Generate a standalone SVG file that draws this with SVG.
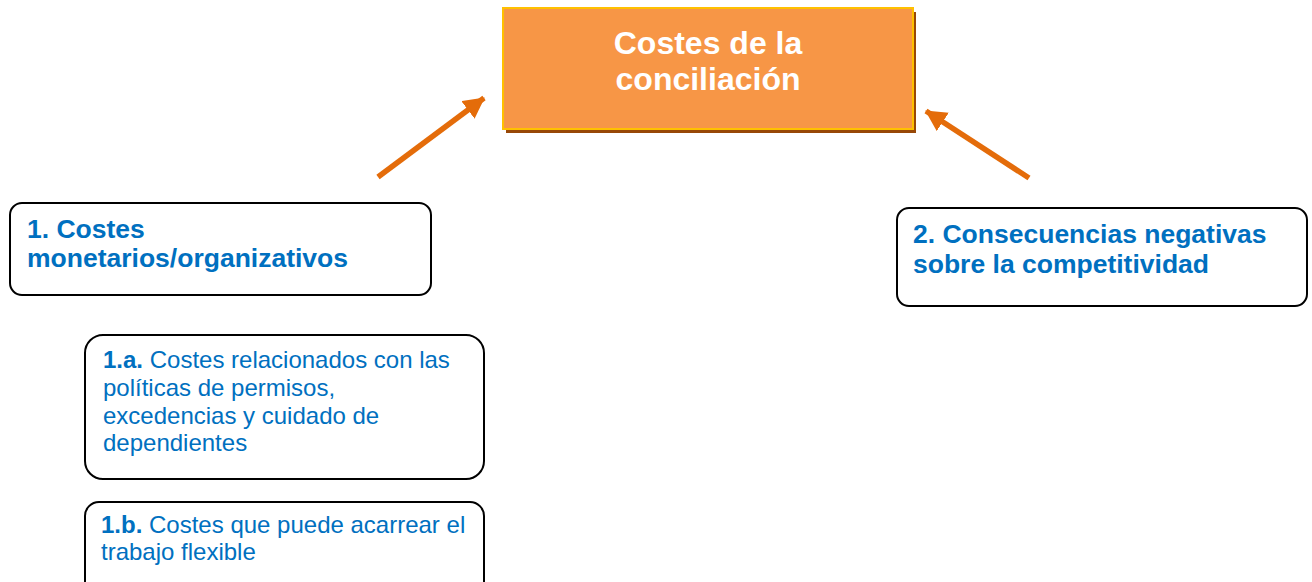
<svg xmlns="http://www.w3.org/2000/svg" width="1312" height="582" viewBox="0 0 1312 582">
<style>
.box{fill:#fff;stroke:#000;stroke-width:2}
.bt{font-family:"Liberation Sans",Arial,sans-serif;fill:#0070C0;font-weight:bold;font-size:26.5px}
.st{font-family:"Liberation Sans",Arial,sans-serif;fill:#0070C0;font-size:24px}
.b{font-weight:bold}
.title{font-family:"Liberation Sans",Arial,sans-serif;fill:#fff;font-weight:bold;font-size:32px;text-anchor:middle}
.arr{stroke:#E46C0A;stroke-width:5.5;fill:none}
</style>
<defs>
<marker id="ah" markerUnits="userSpaceOnUse" markerWidth="24" markerHeight="24" refX="20" refY="11" orient="auto">
<path d="M0,0 L21,11 L0,22 Z" fill="#E46C0A"/>
</marker>
</defs>
<g id="central">
<rect x="506" y="12" width="410" height="121" fill="#984807"/>
<rect x="503" y="8" width="410" height="121" fill="#F79646" stroke="#FFC000" stroke-width="2"/>
<text class="title" x="708" y="54">Costes de la</text>
<text class="title" x="708" y="90">conciliación</text>
</g>
<g id="connectors">
<line class="arr" x1="378" y1="177" x2="484" y2="98" marker-end="url(#ah)"/>
<line class="arr" x1="1029" y1="178" x2="926" y2="111" marker-end="url(#ah)"/>
</g>
<g id="n1">
<rect class="box" x="10" y="203" width="421" height="92" rx="12"/>
<text class="bt" x="27" y="238">1. Costes</text>
<text class="bt" x="27" y="267">monetarios/organizativos</text>
</g>
<g id="n2">
<rect class="box" x="897" y="208" width="410" height="98" rx="12"/>
<text class="bt" x="913" y="243">2. Consecuencias negativas</text>
<text class="bt" x="913" y="273">sobre la competitividad</text>
</g>
<g id="n1a">
<rect class="box" x="85" y="335" width="399" height="144" rx="18"/>
<text class="st" x="103" y="368"><tspan class="b">1.a.</tspan> Costes relacionados con las</text>
<text class="st" x="103" y="396">políticas de permisos,</text>
<text class="st" x="103" y="424">excedencias y cuidado de</text>
<text class="st" x="103" y="451">dependientes</text>
</g>
<g id="n1b">
<rect class="box" x="85" y="502" width="399" height="110" rx="14"/>
<text class="st" x="101" y="533"><tspan class="b">1.b.</tspan> Costes que puede acarrear el</text>
<text class="st" x="101" y="560">trabajo flexible</text>
</g>
</svg>
